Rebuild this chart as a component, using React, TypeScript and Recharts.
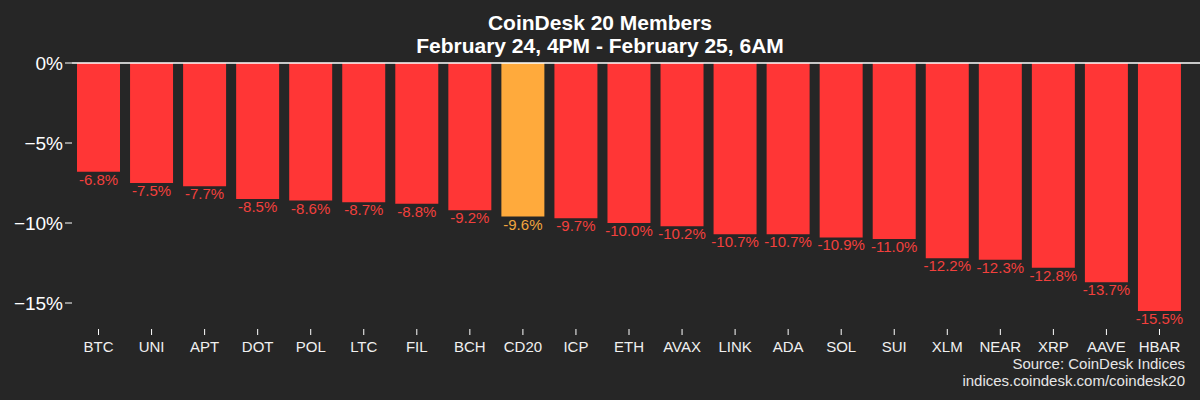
import { Bar, BarChart, Cell, LabelList, ReferenceLine, XAxis, YAxis } from "recharts";

const coins = ["BTC", "UNI", "APT", "DOT", "POL", "LTC", "FIL", "BCH", "CD20", "ICP", "ETH", "AVAX", "LINK", "ADA", "SOL", "SUI", "XLM", "NEAR", "XRP", "AAVE", "HBAR"];
const changes = [-6.8, -7.5, -7.7, -8.5, -8.6, -8.7, -8.8, -9.2, -9.6, -9.7, -10.0, -10.2, -10.7, -10.7, -10.9, -11.0, -12.2, -12.3, -12.8, -13.7, -15.5];
const yTicks = [0, -5, -10, -15];
const highlight = "CD20";

const data = coins.map((name, i) => ({ name, value: changes[i] }));

const BG = "#262626";
const RED = "#ff3636";
const ORANGE = "#ffaa3c";
const FONT = "'Liberation Sans', Arial, sans-serif";

const ValueLabel = (props: any) => {
  const { x, y, width, height, value, index } = props;
  const bottom = Math.max(y, y + height);
  const isHi = data[index]?.name === highlight;
  return (
    <text
      x={x + width / 2}
      y={bottom + 13}
      textAnchor="middle"
      fontSize={15}
      fontFamily={FONT}
      fill={isHi ? "#f2a53e" : "#f2403d"}
    >
      {`${Number(value).toFixed(1)}%`}
    </text>
  );
};

const fmtY = (v: number) => (v === 0 ? "0%" : `\u2212${Math.abs(v)}%`);

export default function App() {
  return (
    <div style={{ position: "absolute", left: 0, top: 0, width: 1200, height: 400, background: BG, fontFamily: FONT, overflow: "hidden" }}>
      <div style={{ position: "absolute", top: 11, left: 0, width: 1200, textAlign: "center", color: "#fff", fontSize: 21, fontWeight: "bold", lineHeight: "23px" }}>
        <div>CoinDesk 20 Members</div>
        <div>February 24, 4PM - February 25, 6AM</div>
      </div>
      <BarChart
        width={1200}
        height={400}
        data={data}
        margin={{ top: 63, right: 0, bottom: 0, left: 0 }}
        style={{ position: "absolute", left: 0, top: 0 }}
      >
        <XAxis
          dataKey="name"
          interval={0}
          height={71}
          padding={{ left: 0, right: 14 }}
          axisLine={false}
          tickLine={{ stroke: "#ffffff", strokeWidth: 1 }}
          tickSize={6}
          tickMargin={6}
          tick={{ fill: "#f0f0f0", fontSize: 15, fontFamily: FONT }}
        />
        <YAxis
          width={72}
          domain={[-16.625, 0]}
          ticks={yTicks}
          allowDataOverflow
          axisLine={false}
          tickLine={{ stroke: "#ffffff", strokeWidth: 1 }}
          tickSize={7}
          tickMargin={2}
          tickFormatter={fmtY}
          tick={{ fill: "#ffffff", fontSize: 19, fontFamily: FONT }}
        />
        <Bar dataKey="value" barSize={43} isAnimationActive={false}>
          {data.map((d) => (
            <Cell key={d.name} fill={d.name === highlight ? ORANGE : RED} />
          ))}
          <LabelList dataKey="value" content={ValueLabel} />
        </Bar>
        <ReferenceLine y={0} stroke="#ffffff" strokeWidth={1.5} />
      </BarChart>
      <div style={{ position: "absolute", right: 15, top: 356, textAlign: "right", color: "#e6e6e6", fontSize: 15, lineHeight: "16.5px" }}>
        <div>Source: CoinDesk Indices</div>
        <div>indices.coindesk.com/coindesk20</div>
      </div>
    </div>
  );
}
